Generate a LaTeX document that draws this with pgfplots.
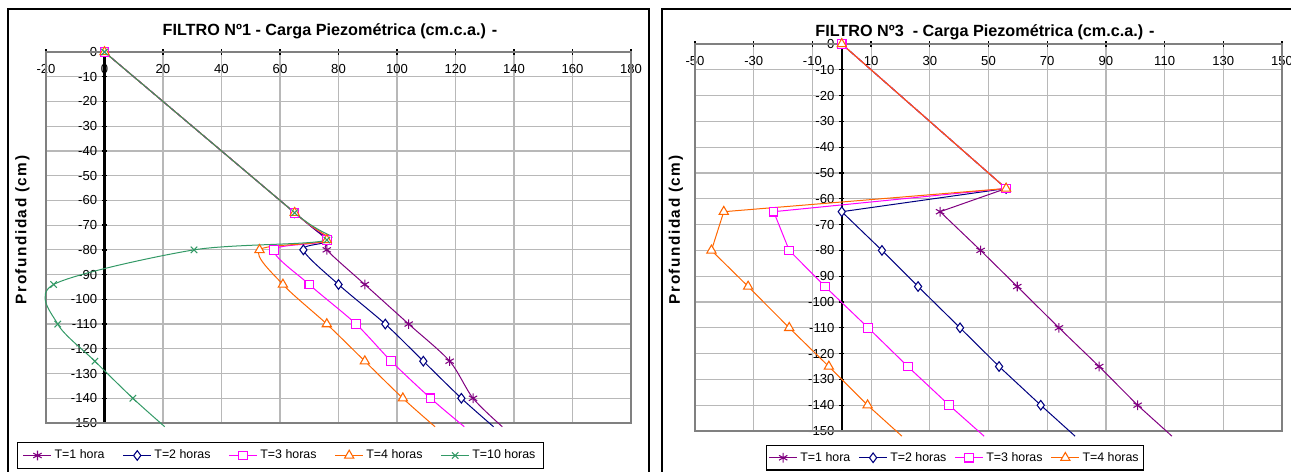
\documentclass[border=0pt]{standalone}
\usepackage{fontspec}
\setmainfont{Liberation Sans}
\newfontfamily\labfont{Liberation Sans}[LetterSpace=10]
\usepackage{pgfplots}
\pgfplotsset{compat=1.18}
\definecolor{tpurple}{HTML}{800080}
\definecolor{tnavy}{HTML}{000080}
\definecolor{tmag}{HTML}{FF00FF}
\definecolor{torange}{HTML}{FF6600}
\definecolor{tgreen}{HTML}{339966}
\pgfplotsset{
  myaxis/.style={
    scale only axis, anchor=north west,
    axis lines=middle,
    axis line style={black, line width=1.6pt, -},
    hide obscured x ticks=false, hide obscured y ticks=false,
    ymin=-150, ymax=0, ytick={-150,-140,...,0},
    grid=major, major grid style={draw=black!28, line width=0.9pt},
    tick style={black, line width=1pt}, major tick length=4pt,
    tick label style={font=\fontsize{9.8}{10}\selectfont},
    /pgf/number format/assume math mode=true,
    xticklabel style={yshift=-3.5pt},
    clip=false,
    legend columns=-1,
    legend image code/.code={\draw[mark indices={2}] plot coordinates {(0pt,0pt) (10.5pt,0pt) (21pt,0pt)};},
    every axis plot/.append style={line width=0.75pt, mark options={solid, fill=white, line width=0.8pt}},
  },
  s1/.style={color=tpurple, mark=asterisk, mark size=3.6pt},
  s2/.style={color=tnavy, mark=diamond*, mark size=3.6pt},
  s3/.style={color=tmag, mark=square*, mark size=3.2pt},
  s4/.style={color=torange, mark=triangle*, mark size=4pt},
  s10/.style={color=tgreen, mark=x, mark size=3.4pt},
}
\begin{document}
\begin{tikzpicture}
\path[use as bounding box] (0,0) rectangle (968.25pt,-353.25pt);
% frames
\draw[black, line width=1.1pt] (6pt,-6.75pt) rectangle (486.75pt,-360pt);
\draw[black, line width=1.1pt] (496.5pt,-6.75pt) rectangle (975pt,-360pt);
% titles
\node[font=\bfseries\fontsize{12.15}{14}\selectfont] at (247.5pt,-23.25pt) {FILTRO Nº1 - Carga Piezométrica (cm.c.a.) -};
\node[font=\bfseries\fontsize{12.15}{14}\selectfont] at (738.75pt,-24pt) {FILTRO Nº3\ \ - Carga Piezométrica (cm.c.a.) -};
% y labels
\node[rotate=90, font=\labfont\bfseries\fontsize{11.5}{13}\selectfont] at (16.8pt,-172.5pt) {Profundidad (cm)};
\node[rotate=90, font=\labfont\bfseries\fontsize{11.5}{13}\selectfont] at (507pt,-172.5pt) {Profundidad (cm)};

\begin{axis}[myaxis, at={(34.5pt,-39pt)}, width=438.75pt, height=278.25pt,
  xmin=-20, xmax=180, xtick={-20,0,...,180},
  legend style={at={(axis description cs:-0.0496,-0.0512)}, anchor=north west,
    draw=black, line width=1pt, font=\fontsize{9.3}{11}\selectfont,
    inner xsep=4pt, inner ysep=3.5pt,
    /tikz/every even column/.append style={column sep=11.6pt}},
]
\draw[black!50, line width=0.9pt] (rel axis cs:0,0) rectangle (rel axis cs:1,1);
\addplot[s1, smooth, mark indices={1,2,3,4,5,6,7,8}] coordinates {(0,0) (65,-65) (76,-76) (76,-80) (89,-94) (104,-110) (118,-125) (126,-140) (136,-151.5)};
\addlegendentry{T=1 hora}
\addplot[s2, smooth, mark indices={1,2,3,4,5,6,7,8}] coordinates {(0,0) (65,-65) (76,-76) (68,-80) (80,-94) (96,-110) (109,-125) (122,-140) (133,-151.5)};
\addlegendentry{T=2 horas}
\addplot[s3, smooth, mark indices={1,2,3,4,5,6,7,8}] coordinates {(0,0) (65,-65) (76,-76) (58,-80) (70,-94) (86,-110) (98,-125) (111.5,-140) (123,-151.5)};
\addlegendentry{T=3 horas}
\addplot[s4, smooth, mark indices={1,2,3,4,5,6,7,8}] coordinates {(0,0) (65,-65) (76,-76) (53,-80) (61,-94) (76,-110) (89,-125) (102,-140) (113,-151.5)};
\addlegendentry{T=4 horas}
\addplot[s10, smooth, mark indices={1,2,3,4,5,6,7,8}] coordinates {(0,0) (65,-65) (76,-76) (30.6,-80) (-17.4,-94) (-16,-110) (-3.3,-125) (9.7,-140) (20.6,-151.5)};
\addlegendentry{T=10 horas}
\end{axis}

\begin{axis}[myaxis, at={(521.25pt,-33pt)}, width=440.25pt, height=290.25pt,
  xmin=-50, xmax=150, xtick={-50,-30,...,150},
  legend style={at={(axis description cs:0.121,-0.036)}, anchor=north west,
    draw=black, line width=1pt, font=\fontsize{9.3}{11}\selectfont,
    inner xsep=1.5pt, inner ysep=3pt,
    /tikz/every even column/.append style={column sep=4.2pt}},
]
\draw[black!50, line width=0.9pt] (rel axis cs:0,0) rectangle (rel axis cs:1,1);
\addplot[s1, mark indices={1,2,3,4,5,6,7,8}] coordinates {(0,0) (56,-56) (33.5,-65) (47.3,-80) (59.8,-94) (74,-110) (87.7,-125) (100.8,-140) (112.5,-152)};
\addlegendentry{T=1 hora}
\addplot[s2, mark indices={1,2,3,4,5,6,7,8}] coordinates {(0,0) (56,-56) (0,-65) (13.7,-80) (26,-94) (40.3,-110) (53.6,-125) (67.8,-140) (79.5,-152)};
\addlegendentry{T=2 horas}
\addplot[s3, mark indices={1,2,3,4,5,6,7,8}] coordinates {(0,0) (56,-56) (-23.2,-65) (-17.9,-80) (-5.7,-94) (9,-110) (22.5,-125) (36.6,-140) (48.5,-152)};
\addlegendentry{T=3 horas}
\addplot[s4, mark indices={1,2,3,4,5,6,7,8}] coordinates {(0,0) (56,-56) (-40.2,-65) (-44.4,-80) (-31.9,-94) (-17.9,-110) (-4.4,-125) (8.8,-140) (20.5,-152)};
\addlegendentry{T=4 horas}
\end{axis}
\end{tikzpicture}
\end{document}
